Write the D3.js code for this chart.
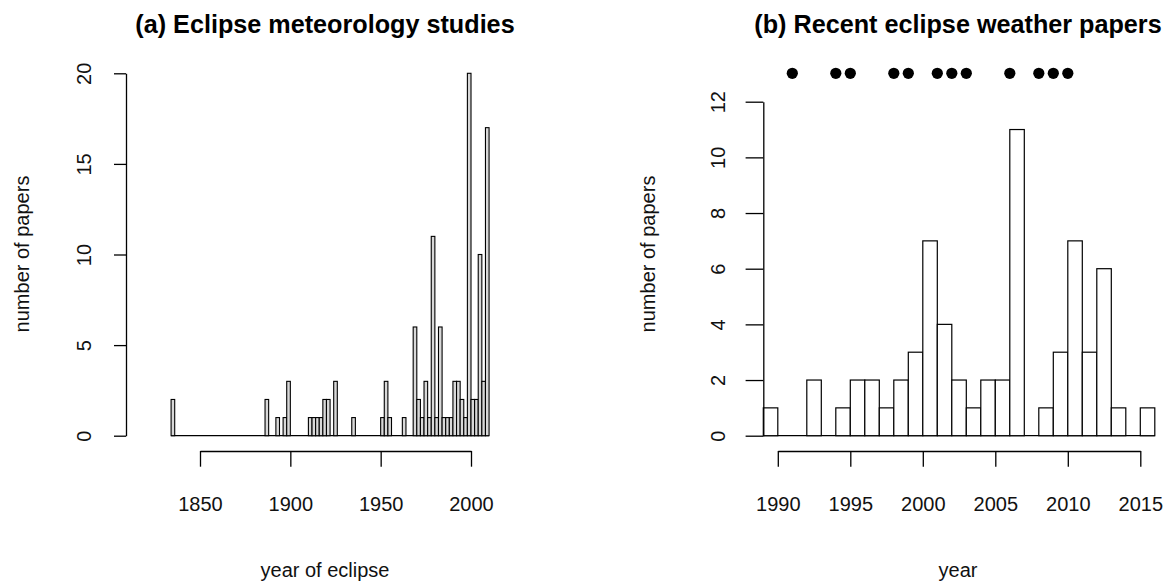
<!DOCTYPE html>
<html>
<head>
<meta charset="utf-8">
<script src="https://cdn.jsdelivr.net/npm/d3@7"></script>
<style>
body { margin: 0; background: #fff; }
svg { font-family: "Liberation Sans", Arial, sans-serif; }
</style>
</head>
<body>
<script>
// (a) papers per eclipse year, 2-year bins (1834,1836] ... (2008,2010]
var leftStart = 1834;
var leftWidth = 2;
var leftCounts = [
  2,
  0,0,0,0,0,0,0,0,0,0,0,0,0,0,0,0,0,0,0,0,0,0,0,0,0,
  2,
  0,0,
  1,
  0,
  1,3,
  0,0,0,0,0,
  1,1,1,1,
  2,2,
  0,
  3,
  0,0,0,0,
  1,
  0,0,0,0,0,0,0,
  1,3,1,
  0,0,0,
  1,
  0,0,
  6,2,1,3,1,11,1,6,1,1,1,3,3,2,1,20,2,2,10,3,17
];
var leftXTicks = [1850, 1900, 1950, 2000];
var leftYTicks = [0, 5, 10, 15, 20];

// (b) papers per publication year
var rightYears  = [1990,1991,1992,1993,1994,1995,1996,1997,1998,1999,2000,2001,2002,2003,2004,2005,2006,2007,2008,2009,2010,2011,2012,2013,2014,2015,2016];
var rightCounts = [1,0,0,2,0,1,2,2,1,2,3,7,4,2,1,2,2,11,0,1,3,7,3,6,1,0,1];
var eclipseYears = [1991,1994,1995,1998,1999,2001,2002,2003,2006,2008,2009,2010];
var rightXTicks = [1990, 1995, 2000, 2005, 2010, 2015];
var rightYTicks = [0, 2, 4, 6, 8, 10, 12];

var w = 1172;
var h = 583;
var base = 435.7;
var axisY = 451;

var svg = d3.select("body").append("svg")
    .attr("width", w)
    .attr("height", h);

function drawPanel(o) {
    var g = svg.append("g");

    // baseline under empty bins (R draws zero-height bars as a line)
    g.append("line")
        .attr("x1", o.x(o.bins[0].x0))
        .attr("x2", o.x(o.bins[o.bins.length - 1].x1))
        .attr("y1", o.y(0)).attr("y2", o.y(0))
        .style("stroke", "#000").style("stroke-width", 1.2);

    g.selectAll("rect.bar").data(o.bins.filter(function (d) { return d.n > 0; }))
        .enter().append("rect")
        .attr("class", "bar")
        .attr("x", function (d) { return o.x(d.x0); })
        .attr("width", function (d) { return o.x(d.x1) - o.x(d.x0); })
        .attr("y", function (d) { return o.y(d.n); })
        .attr("height", function (d) { return o.y(0) - o.y(d.n); })
        .style("fill", o.fill)
        .style("stroke", "#000")
        .style("stroke-width", o.barStroke);

    // x axis, spanning first to last tick like base R
    var xt = o.xTicks;
    var xa = o.x.copy().domain([xt[0], xt[xt.length - 1]])
        .range([o.x(xt[0]), o.x(xt[xt.length - 1])]);
    var gx = g.append("g")
        .attr("transform", "translate(0," + axisY + ")")
        .call(d3.axisBottom(xa).tickValues(xt).tickFormat(d3.format("d"))
            .tickSize(o.xTickLen).tickSizeOuter(0));
    gx.selectAll("text")
        .attr("y", 60).attr("dy", 0)
        .style("font-size", "20px").style("fill", "#111");

    var yt = o.yTicks;
    var ya = o.y.copy().domain([yt[0], yt[yt.length - 1]])
        .range([o.y(yt[0]), o.y(yt[yt.length - 1])]);
    var gy = g.append("g")
        .attr("transform", "translate(" + o.axisX + ",0)")
        .call(d3.axisLeft(ya).tickValues(yt).tickSize(o.yTickLen).tickSizeOuter(0));
    gy.selectAll("text")
        .attr("transform", "rotate(-90)")
        .attr("x", 0).attr("y", o.yLabOff).attr("dy", 0)
        .style("text-anchor", "middle")
        .style("font-size", "20px").style("fill", "#111");

    g.selectAll("path.domain, .tick line")
        .style("stroke", "#000").style("stroke-width", 1.3);

    g.append("text")
        .attr("x", o.cx).attr("y", 33)
        .attr("text-anchor", "middle")
        .style("font-size", "25.2px").style("font-weight", "bold")
        .text(o.title);

    g.append("text")
        .attr("x", o.cx).attr("y", 577)
        .attr("text-anchor", "middle")
        .style("font-size", "20px").style("fill", "#111")
        .text(o.xlab);

    g.append("text")
        .attr("transform", "translate(" + o.ylabX + ",254) rotate(-90)")
        .attr("text-anchor", "middle")
        .style("font-size", "20px").style("fill", "#111")
        .text("number of papers");
    return g;
}

// left panel
var xL = d3.scaleLinear().domain([1850, 2000]).range([200, 471]);
var yL = d3.scaleLinear().domain([0, 20]).range([base, 73.3]);
var binsL = leftCounts.map(function (c, i) {
    return { x0: leftStart + leftWidth * i, x1: leftStart + leftWidth * (i + 1), n: c };
});
drawPanel({
    bins: binsL,
    x: xL,
    y: yL,
    xTicks: leftXTicks, yTicks: leftYTicks,
    xTickLen: 15.7, yTickLen: 12, yLabOff: -35.5, axisX: 126,
    fill: "#d8d8d8", barStroke: 1.1,
    cx: 325, ylabX: 29,
    title: "(a) Eclipse meteorology studies",
    xlab: "year of eclipse"
});

// right panel
var xR = d3.scaleLinear().domain([1989, 2016]).range([763.3, 1154.8]);
var yR = d3.scaleLinear().domain([0, 12]).range([base, 101.7]);
var binsR = rightCounts.map(function (c, i) {
    return { x0: rightYears[i] - 1, x1: rightYears[i], n: c };
});
var gR = drawPanel({
    bins: binsR,
    x: xR,
    y: yR,
    xTicks: rightXTicks, yTicks: rightYTicks,
    xTickLen: 15.7, yTickLen: 17.7, yLabOff: -38.5, axisX: 763.3,
    fill: "#fff", barStroke: 1.2,
    cx: 958, ylabX: 655,
    title: "(b) Recent eclipse weather papers",
    xlab: "year"
});

gR.selectAll("circle.eclipse").data(eclipseYears).enter().append("circle")
    .attr("class", "eclipse")
    .attr("cx", function (d) { return xR(d); })
    .attr("cy", 73.3)
    .attr("r", 5.6)
    .style("fill", "#000");
</script>
</body>
</html>
